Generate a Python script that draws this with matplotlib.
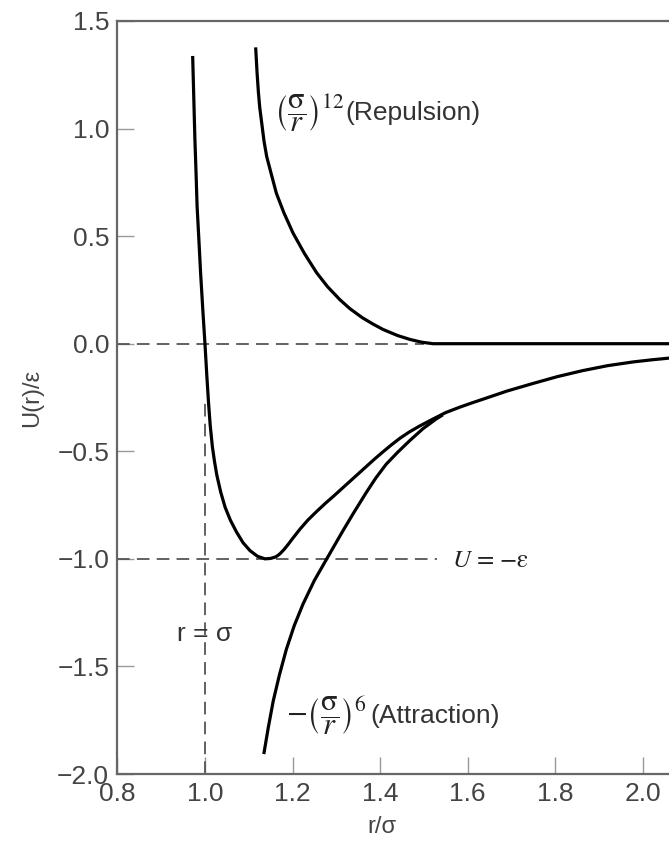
import matplotlib.pyplot as plt

# Lennard-Jones curve and its two parts (r/sigma, U/eps)
lj_r = [0.972, 0.9745, 0.977, 0.9797, 0.982, 0.9862, 0.990, 0.995, 1.000, 1.004,
        1.008, 1.012, 1.017, 1.022, 1.027, 1.036, 1.046, 1.058, 1.072, 1.087,
        1.103, 1.120, 1.137, 1.150, 1.160, 1.166, 1.172, 1.180, 1.190, 1.200,
        1.217, 1.235, 1.255, 1.275, 1.293, 1.312, 1.331, 1.350, 1.369, 1.388,
        1.407, 1.426, 1.445, 1.467, 1.490, 1.521, 1.550, 1.582, 1.610, 1.635,
        1.690, 1.749, 1.805, 1.863, 1.920, 1.977, 2.020, 2.060]
lj_u = [1.33, 1.14, 0.95, 0.79, 0.64, 0.48, 0.33, 0.16, 0.0, -0.14,
        -0.27, -0.38, -0.48, -0.55, -0.61, -0.69, -0.76, -0.82, -0.875, -0.925,
        -0.962, -0.988, -1.0, -0.998, -0.992, -0.985, -0.975, -0.958, -0.933, -0.906,
        -0.862, -0.82, -0.78, -0.742, -0.71, -0.675, -0.64, -0.605, -0.57, -0.535,
        -0.502, -0.47, -0.44, -0.41, -0.383, -0.35, -0.32, -0.295, -0.275, -0.258,
        -0.22, -0.185, -0.153, -0.125, -0.102, -0.085, -0.075, -0.067]

rep_r = [1.116, 1.119, 1.122, 1.125, 1.130, 1.135, 1.141, 1.150, 1.163, 1.180,
         1.201, 1.227, 1.255, 1.280, 1.308, 1.331, 1.360, 1.385, 1.407, 1.440,
         1.468, 1.495, 1.521, 2.060]
rep_u = [1.37, 1.26, 1.17, 1.10, 1.02, 0.94, 0.87, 0.80, 0.70, 0.61,
         0.515, 0.42, 0.33, 0.265, 0.205, 0.163, 0.12, 0.09, 0.066, 0.038,
         0.02, 0.007, 0.0, 0.0]

att_r = [1.135, 1.145, 1.156, 1.170, 1.186, 1.204, 1.224, 1.250, 1.281, 1.315,
         1.340, 1.369, 1.390, 1.414, 1.440, 1.468, 1.498, 1.528, 1.540]
att_u = [-1.90, -1.78, -1.66, -1.54, -1.42, -1.31, -1.21, -1.10, -0.99, -0.87,
         -0.785, -0.69, -0.625, -0.56, -0.505, -0.45, -0.395, -0.35, -0.335]

xticks = [0.8, 1.0, 1.2, 1.4, 1.6, 1.8, 2.0]
yticks = [-2.0, -1.5, -1.0, -0.5, 0.0, 0.5, 1.0, 1.5]

# dashed guide lines
zero_end = 1.50
min_end = 1.529
sigma_top = -0.246

plt.rcParams['font.family'] = ['Liberation Sans', 'DejaVu Sans']
plt.rcParams['mathtext.fontset'] = 'stix'

grey = '#555555'
fig = plt.figure(figsize=(6.69, 8.46), dpi=100)
ax = fig.add_axes([0.1755, 0.0851, 0.8245, 0.8901])

dash = (0, (7, 4))
ax.hlines(0.0, 0.8, zero_end, colors=grey, lw=1.3, linestyles=dash)
ax.hlines(-1.0, 0.8, min_end, colors=grey, lw=1.3, linestyles=dash)
ax.vlines(1.0, -2.0, sigma_top, colors=grey, lw=1.3, linestyles=dash)

ax.plot(rep_r, rep_u, color='black', lw=2.3)
ax.plot(att_r, att_u, color='black', lw=2.3)
ax.plot(lj_r, lj_u, color='black', lw=2.3)

ax.set_xlim(0.8, 2.06)
ax.set_ylim(-2.0, 1.5)
ax.set_xticks(xticks)
ax.set_yticks(yticks)
ax.tick_params(direction='in', length=12, width=1, color='#999999',
               labelsize=19, labelcolor='#444444', pad=6)
for s in ['left', 'bottom', 'top']:
    ax.spines[s].set_color('#666666')
    ax.spines[s].set_linewidth(1.6)
ax.spines['right'].set_visible(False)

ax.set_xlabel('r/σ', fontsize=17, color='#444444')
ax.set_ylabel('U(r)/ε', fontsize=17, color='#444444')
ax.xaxis.set_label_coords(0.48, -0.056)
ax.yaxis.set_label_coords(-0.135, 0.5)

ax.text(1.158, 1.07, r'$\left(\dfrac{\mathrm{\sigma}}{r}\right)^{12}$', fontsize=22,
        va='center', ha='left', color='#222222')
ax.text(1.32, 1.07, '(Repulsion)', fontsize=19, va='center', ha='left', color='#333333')

ax.text(1.185, -1.73, r'$-\left(\dfrac{\mathrm{\sigma}}{r}\right)^{6}$', fontsize=22,
        va='center', ha='left', color='#222222')
ax.text(1.377, -1.73, '(Attraction)', fontsize=19, va='center', ha='left', color='#333333')

ax.text(1.0, -1.35, 'r = σ', fontsize=19, va='center', ha='center', color='#333333')
ax.text(1.564, -1.01, r'$U$ = −ε', fontsize=18, va='center', ha='left',
        color='#222222', family=['STIXGeneral', 'DejaVu Serif'])

fig.savefig('out.png', dpi=100)
